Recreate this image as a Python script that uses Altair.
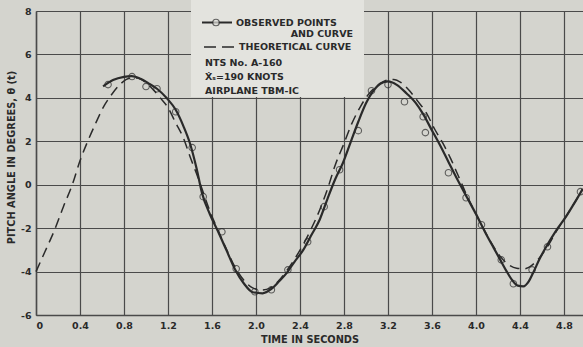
import altair as alt
import pandas as pd

# Observed points (time s, pitch angle deg)
obs_t = [0.655, 0.873, 1.00, 1.10, 1.27, 1.42, 1.52, 1.69, 1.82, 1.99, 2.14, 2.29, 2.47, 2.62,
         2.76, 2.93, 3.05, 3.20, 3.35, 3.52, 3.54, 3.75, 3.91, 4.05, 4.23, 4.34, 4.51, 4.65, 4.95]
obs_y = [4.61, 4.98, 4.52, 4.42, 3.36, 1.71, -0.55, -2.17, -3.87, -4.93, -4.84, -3.92, -2.63, -1.01,
         0.69, 2.49, 4.33, 4.61, 3.82, 3.13, 2.40, 0.55, -0.60, -1.84, -3.46, -4.56, -3.92, -2.86, -0.32]

# Observed (faired) curve
solid_t = [0.61, 0.70, 0.80, 0.87, 0.95, 1.02, 1.10, 1.19, 1.27, 1.34, 1.40, 1.46, 1.51, 1.58,
           1.65, 1.73, 1.81, 1.89, 1.97, 2.06, 2.14, 2.21, 2.28, 2.35, 2.43, 2.50, 2.58, 2.65,
           2.72, 2.79, 2.86, 2.93, 3.00, 3.07, 3.13, 3.20, 3.28, 3.37, 3.45, 3.52, 3.60, 3.67,
           3.75, 3.83, 3.92, 4.00, 4.08, 4.16, 4.22, 4.28, 4.33, 4.38, 4.43, 4.48, 4.52, 4.58,
           4.65, 4.73, 4.82, 4.90, 4.97]
solid_y = [4.53, 4.82, 4.97, 5.00, 4.88, 4.68, 4.42, 3.98, 3.45, 2.70, 1.90, 0.75, -0.40, -1.35,
           -2.10, -3.00, -3.90, -4.55, -4.95, -5.00, -4.80, -4.45, -4.06, -3.55, -3.00, -2.35, -1.60, -0.65,
           0.25, 1.00, 1.95, 2.90, 3.75, 4.35, 4.65, 4.76, 4.60, 4.20, 3.78, 3.25, 2.50, 1.85,
           1.05, 0.25, -0.60, -1.35, -2.15, -2.90, -3.45, -4.00, -4.40, -4.65, -4.68, -4.45, -4.05, -3.40,
           -2.76, -2.10, -1.46, -0.80, -0.20]

# Theoretical curve
theo_t = [0.00, 0.08, 0.17, 0.25, 0.33, 0.40, 0.47, 0.54, 0.61, 0.68, 0.77, 0.85, 0.92, 1.00,
          1.07, 1.13, 1.20, 1.27, 1.34, 1.40, 1.46, 1.52, 1.58, 1.65, 1.73, 1.81, 1.89, 1.97,
          2.05, 2.13, 2.21, 2.28, 2.36, 2.43, 2.50, 2.58, 2.65, 2.72, 2.80, 2.87, 2.95, 3.02,
          3.10, 3.18, 3.25, 3.32, 3.40, 3.47, 3.55, 3.62, 3.70, 3.77, 3.84, 3.90, 3.97, 4.05,
          4.13, 4.22, 4.30, 4.37, 4.44, 4.51, 4.58, 4.65, 4.73, 4.82, 4.90, 4.97]
theo_y = [-4.00, -3.10, -2.07, -1.00, 0.00, 1.10, 2.00, 2.80, 3.55, 4.10, 4.65, 4.90, 4.92, 4.70,
          4.35, 4.00, 3.55, 2.85, 2.15, 1.30, 0.50, -0.35, -1.20, -2.05, -2.95, -3.80, -4.40, -4.75,
          -4.85, -4.75, -4.40, -3.95, -3.35, -2.75, -2.05, -1.15, -0.20, 0.90, 1.90, 2.80, 3.60, 4.15,
          4.55, 4.80, 4.85, 4.70, 4.30, 3.85, 3.30, 2.60, 1.90, 1.20, 0.40, -0.30, -1.05, -1.85,
          -2.60, -3.30, -3.70, -3.85, -3.87, -3.70, -3.35, -2.85, -2.15, -1.45, -0.80, -0.20]

x_grid = [0, 0.2, 0.4, 0.6, 0.8, 1.0, 1.2, 1.4, 1.6, 1.8, 2.0, 2.2, 2.4, 2.6, 2.8, 3.0,
          3.2, 3.4, 3.6, 3.8, 4.0, 4.2, 4.4, 4.6, 4.8]
y_grid = [-6, -5, -4, -3, -2, -1, 0, 1, 2, 3, 4, 5, 6, 7, 8]

legend_lines = ["NTS No. A-160", "Ẋₛ=190 KNOTS", "AIRPLANE TBM-IC"]

INK = "#2a2a2a"
GRID = "#4a4a4a"
FONT = "DejaVu Sans"

xs = alt.Scale(domain=[0, 4.973], nice=False, zero=False)
ys = alt.Scale(domain=[-6, 8], nice=False, zero=False)

x_axis = alt.Axis(values=x_grid, title="TIME IN SECONDS", grid=True, ticks=False,
                  labelExpr="datum.value == 0 ? '0' : (round(datum.value * 10) % 4 == 0 ? format(datum.value, '.1f') : '')",
                  labelPadding=5, titlePadding=5)
y_axis = alt.Axis(values=y_grid, title="PITCH ANGLE IN DEGREES, θ (t)", grid=True, ticks=False,
                  labelExpr="datum.value % 2 == 0 ? datum.value : ''",
                  labelPadding=5, titleX=-25, titleY=146, titleAlign="center", titleAngle=-90,
                  titleBaseline="middle")

obs_df = pd.DataFrame({"t": obs_t, "y": obs_y})
solid_df = pd.DataFrame({"t": solid_t, "y": solid_y})
theo_df = pd.DataFrame({"t": theo_t, "y": theo_y})
one = pd.DataFrame({"a": [0]})

box = alt.Chart(one).mark_rect(color="#e3e3de").encode(
    x=alt.value(155), x2=alt.value(328), y=alt.value(-11), y2=alt.value(86))

theo = alt.Chart(theo_df).mark_line(color=INK, strokeWidth=1.5, strokeDash=[10, 6],
                                     interpolate="monotone").encode(
    x=alt.X("t:Q", scale=xs, axis=x_axis),
    y=alt.Y("y:Q", scale=ys, axis=y_axis),
    order="t:Q")

solid = alt.Chart(solid_df).mark_line(color=INK, strokeWidth=2.2, interpolate="monotone").encode(
    x=alt.X("t:Q", scale=xs), y=alt.Y("y:Q", scale=ys), order="t:Q")

pts = alt.Chart(obs_df).mark_point(shape="circle", filled=False, size=42, strokeWidth=1.1,
                                   color=INK).encode(
    x=alt.X("t:Q", scale=xs), y=alt.Y("y:Q", scale=ys))

leg_solid = alt.Chart(one).mark_rule(color=INK, strokeWidth=2).encode(
    x=alt.value(166), x2=alt.value(196), y=alt.value(11.5))
leg_circle = alt.Chart(one).mark_point(shape="circle", filled=True, fill="#e3e3de", size=42,
                                       strokeWidth=1.2, stroke=INK).encode(
    x=alt.value(180), y=alt.value(11.5))
leg_dash = alt.Chart(one).mark_rule(color=INK, strokeWidth=1.6, strokeDash=[12, 6]).encode(
    x=alt.value(168), x2=alt.value(200), y=alt.value(36))

def txt(s, x, y, align="left"):
    return alt.Chart(one).mark_text(text=s, font=FONT, fontWeight="bold", fontSize=9.5,
                                    color=INK, align=align, baseline="middle").encode(
        x=alt.value(x), y=alt.value(y))

texts = [
    txt("OBSERVED POINTS", 200, 11.5),
    txt("AND CURVE", 317, 23, align="right"),
    txt("THEORETICAL CURVE", 203, 36),
    txt(legend_lines[0], 169, 52),
    txt(legend_lines[1], 169, 66),
    txt(legend_lines[2], 169, 80),
]

chart = alt.layer(box, theo, solid, pts, leg_solid, leg_circle, leg_dash, *texts).properties(
    width=547, height=304,
    padding={"left": 36, "top": 11, "right": 0, "bottom": 32},
    autosize=alt.AutoSizeParams(type="none"),
    background="#d4d4ce",
).configure_view(stroke=None).configure_axis(
    gridColor=GRID, gridWidth=1.2, domainColor=GRID, domainWidth=1.5,
    labelFont=FONT, labelFontWeight="bold", labelFontSize=9.5, labelColor=INK,
    titleFont=FONT, titleFontWeight="bold", titleFontSize=9.8, titleColor=INK,
)

chart.save("out.html", embed_options={"renderer": "svg", "actions": False})
